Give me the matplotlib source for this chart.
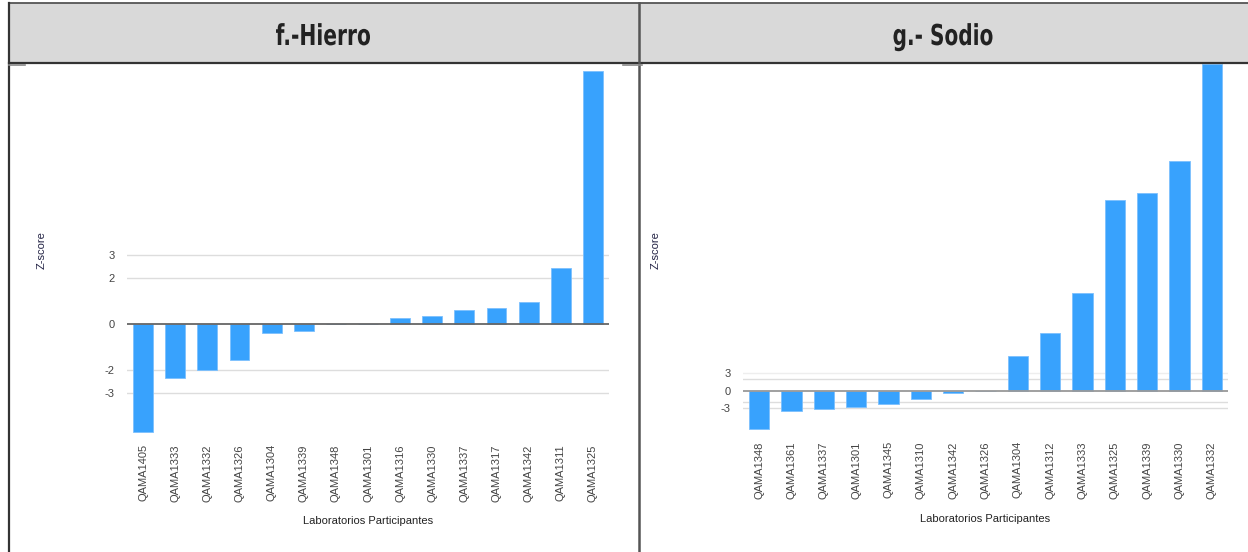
import matplotlib
matplotlib.use("Agg")
import matplotlib.pyplot as plt
from matplotlib.lines import Line2D
from matplotlib.patches import Rectangle, PathPatch
from matplotlib.textpath import TextPath
from matplotlib.font_manager import FontProperties
from matplotlib.transforms import Affine2D

# ---- data ----
hierro_labs = ["QAMA1405", "QAMA1333", "QAMA1332", "QAMA1326", "QAMA1304", "QAMA1339",
               "QAMA1348", "QAMA1301", "QAMA1316", "QAMA1330", "QAMA1337", "QAMA1317",
               "QAMA1342", "QAMA1311", "QAMA1325"]
hierro_z = [-4.73, -2.36, -2.0, -1.59, -0.39, -0.29, 0.0, 0.0, 0.26, 0.34, 0.60, 0.70,
            0.95, 2.43, 11.06]

sodio_labs = ["QAMA1348", "QAMA1361", "QAMA1337", "QAMA1301", "QAMA1345", "QAMA1310",
              "QAMA1342", "QAMA1326", "QAMA1304", "QAMA1312", "QAMA1333", "QAMA1325",
              "QAMA1339", "QAMA1330", "QAMA1332"]
sodio_z = [-6.58, -3.52, -3.12, -2.83, -2.31, -1.5, -0.46, 0.0, 6.01, 9.95, 16.88, 33.0,
           34.2, 39.8, 56.6]

hierro_ticks = [-3, -2, 0, 2, 3]
hierro_ticklabels = ["-3", "-2", "0", "2", "3"]
sodio_ticks = [-3, -2, 0, 2, 3]
sodio_ticklabels = ["-3", "", "0", "", "3"]

titles = ["f.-Hierro", "g.- Sodio"]
xlabel = "Laboratorios Participantes"
ylabel = "Z-score"

BAR = "#38a2fd"
W, H = 1248, 552
fig = plt.figure(figsize=(W / 100, H / 100), dpi=100)
fig.patch.set_facecolor("white")

def px(x0, y0, x1, y1):
    return [x0 / W, 1 - y1 / H, (x1 - x0) / W, (y1 - y0) / H]

font = ["Liberation Sans", "DejaVu Sans"]

def panel(rect, labs, vals, ylim, ticks, ticklabels, zero_color, grid_colors, ylab_x, xlab_y):
    ax = fig.add_axes(px(*rect))
    x = list(range(len(labs)))
    ax.bar(x, vals, width=0.62, color=BAR, edgecolor="#7cc0fd", linewidth=0.6, zorder=3)
    ax.set_xlim(-0.5, len(labs) - 0.5)
    ax.set_ylim(*ylim)
    for t, c in zip(ticks, grid_colors):
        if t == 0:
            ax.axhline(0, color=zero_color, lw=1.3, zorder=4)
        else:
            ax.axhline(t, color=c, lw=1.0, zorder=1)
    ax.set_yticks(ticks)
    ax.set_yticklabels(ticklabels, fontsize=8, color="#444444", family=font)
    ax.set_xticks(x)
    ax.set_xticklabels(labs, rotation=90, fontsize=8, color="#444444", family=font, va="top")
    ax.tick_params(axis="x", length=0, pad=3)
    ax.tick_params(axis="y", length=0, pad=9)
    for s in ax.spines.values():
        s.set_visible(False)
    fig.text(ylab_x / W, 1 - 250 / H, ylabel, rotation=90, fontsize=8, color="#222244",
             family=font, ha="center", va="center")
    fig.text((rect[0] + rect[2]) / 2 / W, 1 - xlab_y / H, xlabel, fontsize=8, color="#222222",
             family=font, ha="center", va="center")
    return ax

panel((127, 64, 609, 440), hierro_labs, hierro_z, (-5.07, 11.36), hierro_ticks, hierro_ticklabels,
      "#666666", ["#dddddd", "#dddddd", None, "#dddddd", "#dddddd"], 42, 521)
panel((743, 64, 1228, 437), sodio_labs, sodio_z, (-8.0, 56.6), sodio_ticks, sodio_ticklabels,
      "#999999", ["#dddddd", "#dddddd", None, "#dddddd", "#eeeeee"], 656, 519)

# header band
fig.patches.append(Rectangle((9 / W, 1 - 63 / H), (W - 9) / W, 60 / H, transform=fig.transFigure,
                             facecolor="#d9d9d9", edgecolor="none", zorder=0))
def fline(x0, y0, x1, y1, color="#333333", lw=1.5):
    fig.lines.append(Line2D([x0 / W, x1 / W], [1 - y0 / H, 1 - y1 / H], transform=fig.transFigure,
                            color=color, lw=lw, zorder=10))
fline(9, 3, W, 3, "#555555", 1.3)
fline(9, 63, W, 63, "#333333", 1.6)
fline(9, 3, 9, H, "#333333", 1.6)
fline(639, 3, 639, H, "#555555", 1.8)
fline(9, 65, 25, 65, "#888888", 1.2)
fline(623, 65, 642, 65, "#888888", 1.2)

# condensed bold titles (horizontally squeezed text outlines)
tprop = FontProperties(family="DejaVu Sans", weight="bold")
def title(text, cx, baseline, width, cap=21.0):
    tp = TextPath((0, 0), text, size=cap / 0.729, prop=tprop)
    ext = tp.get_extents()
    sx = width / ext.width
    tr = (Affine2D().translate(-(ext.x0 + ext.x1) / 2, 0).scale(sx, 1.0)
          .translate(cx, H - baseline))
    patch = PathPatch(tp, transform=tr, facecolor="#222222", edgecolor="none", zorder=11)
    fig.patches.append(patch)

title(titles[0], 323, 45, 94)
title(titles[1], 943, 45, 99)

fig.savefig("out.png", dpi=100)
